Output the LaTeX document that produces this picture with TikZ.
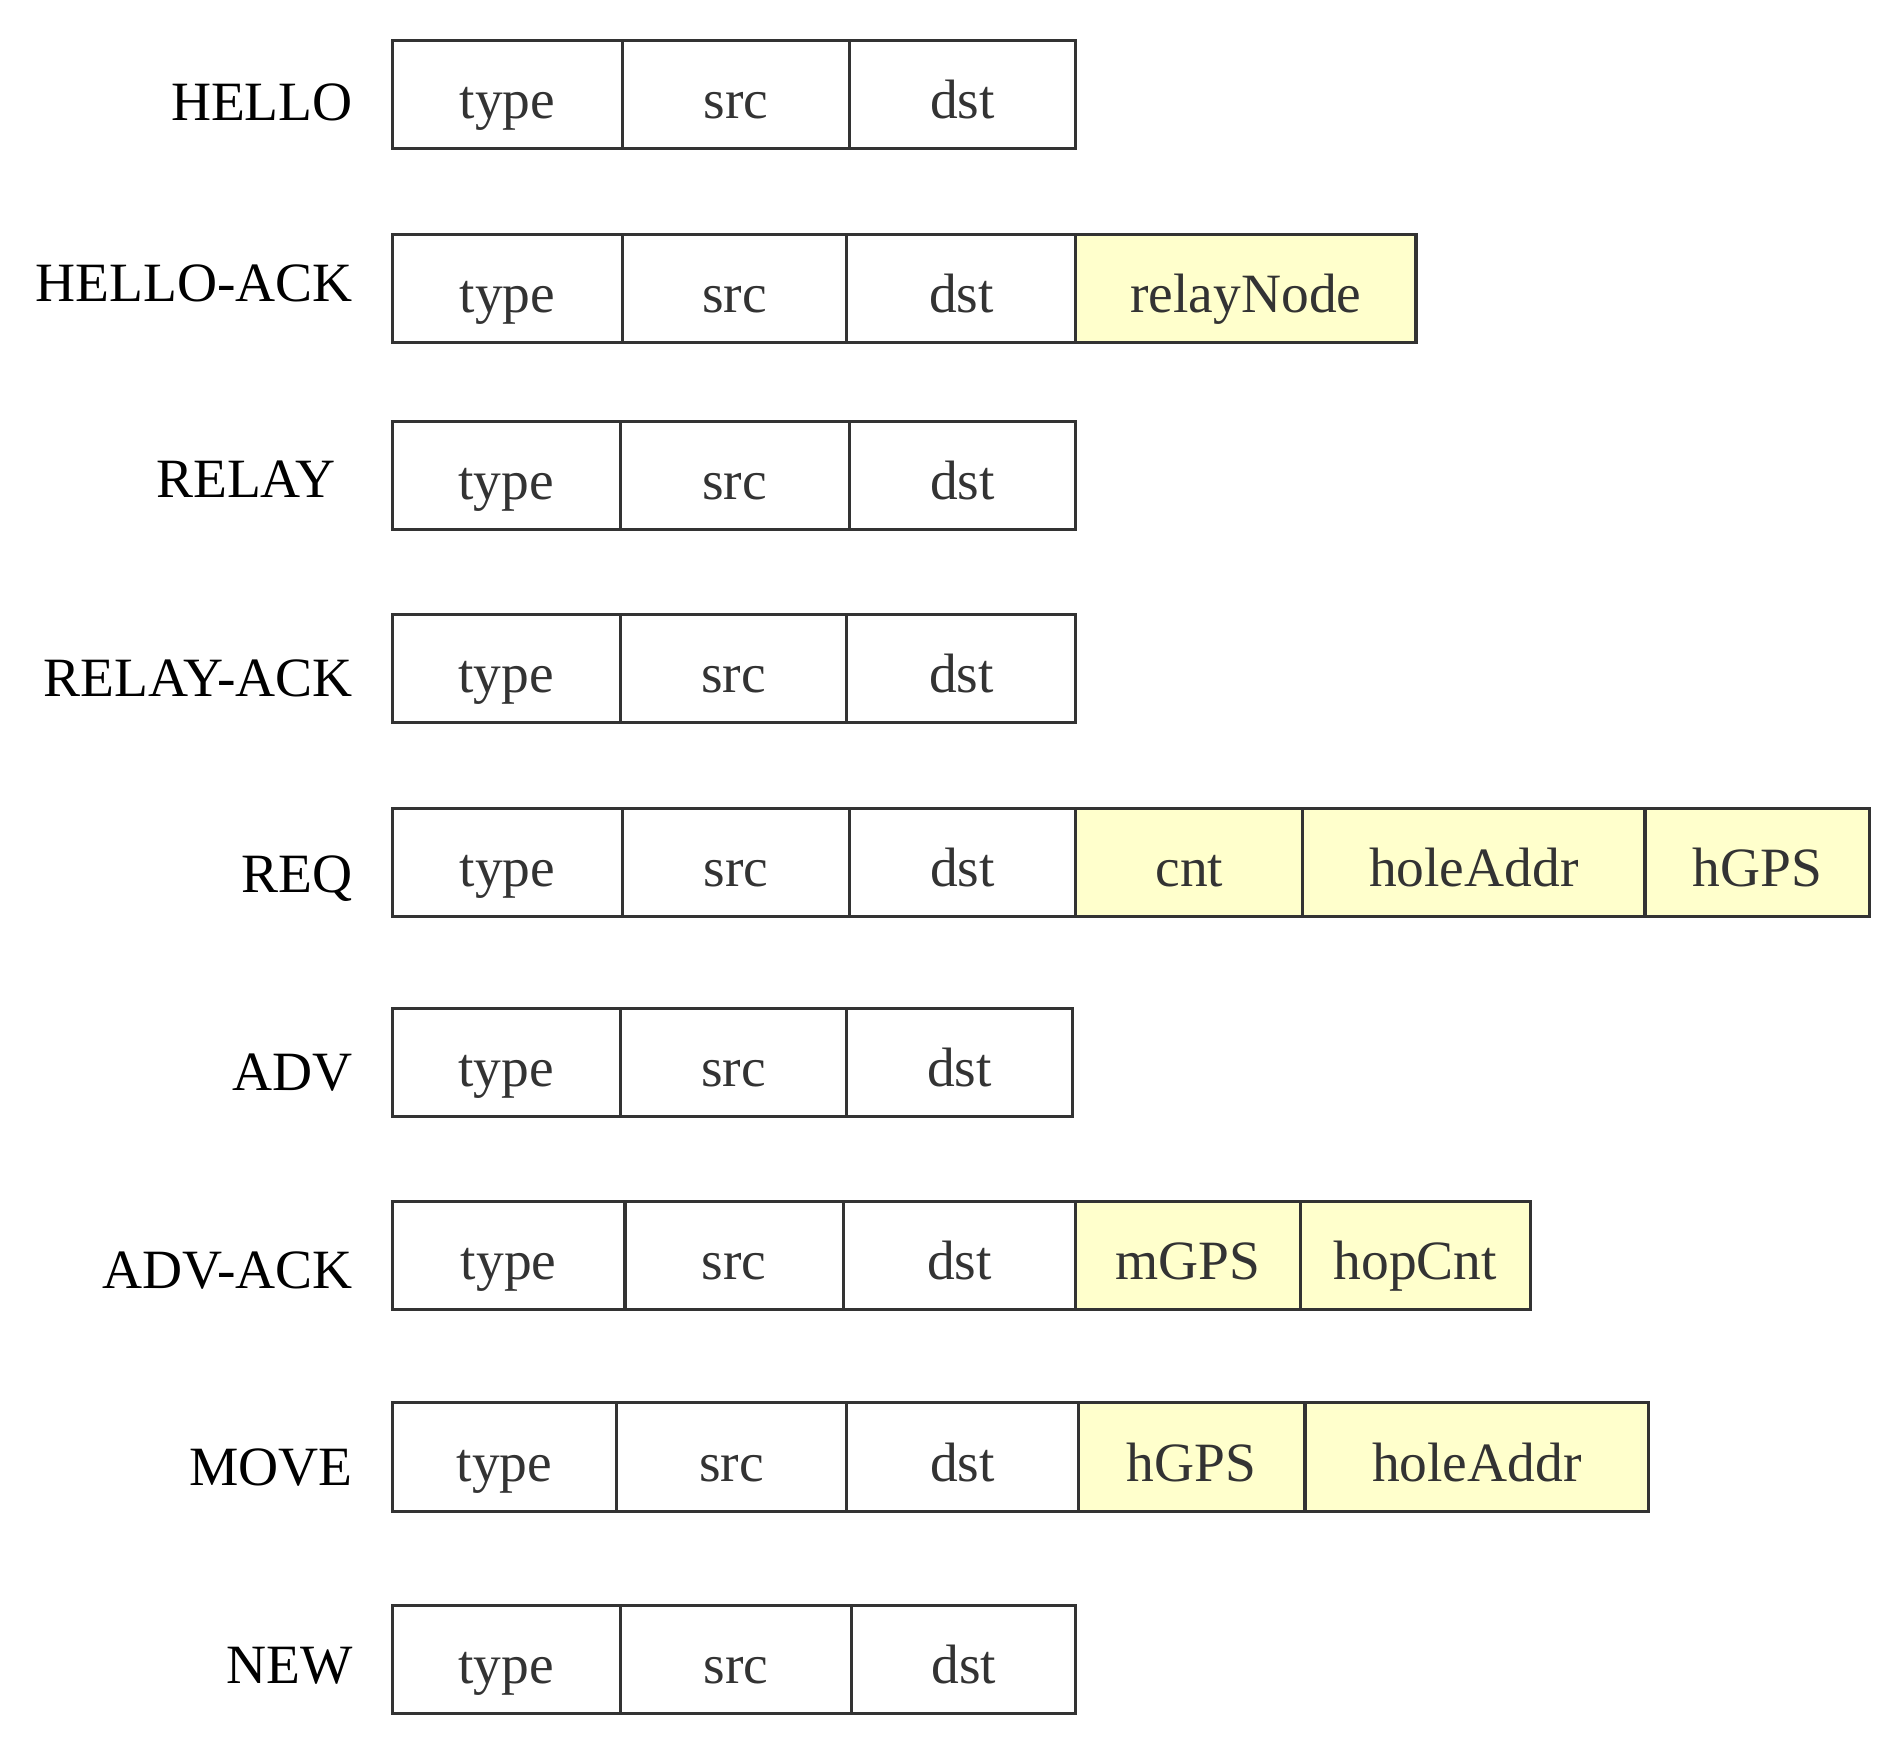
\documentclass[tikz,border=0pt]{standalone}
\usepackage{fontspec}
\setmainfont{Liberation Serif}
\usepackage{tikz}
\definecolor{optfill}{HTML}{FFFFCC}
\definecolor{cellline}{HTML}{333333}
\tikzstyle{fld}=[rectangle, draw=cellline, line width=1.3pt, inner sep=0pt, minimum height=45pt, text height=20pt, text depth=0pt, text=black!80, font=\fontsize{23}{26}\selectfont]
\tikzstyle{opt}=[fld, fill=optfill]
\tikzstyle{msg}=[anchor=base east, inner sep=0pt, font=\fontsize{23}{26}\selectfont]
% name, left, right, top, style, text
\providecommand{\fld}[6]{%
  \pgfmathsetmacro\fw{(#3-#2)*0.5}%
  \node[#5, minimum width=\fw pt, anchor=north west] (#1) at (#2,#4) {#6};}

\begin{document}
\begin{tikzpicture}[x=0.5pt,y=-0.5pt]
\useasboundingbox (0,0) rectangle (1560,1440);
% HELLO
\fld{h1}{324}{515}{32}{fld}{type}
\fld{h2}{515}{703}{32}{fld}{src}
\fld{h3}{703}{891}{32}{fld}{dst}
\node[msg] (hello) at (293,100) {HELLO};
% HELLO-ACK
\fld{ha1}{324}{515}{193}{fld}{type}
\fld{ha2}{515}{701}{193}{fld}{src}
\fld{ha3}{701}{891}{193}{fld}{dst}
\fld{ha4}{891}{1173}{193}{opt}{relayNode}
\node[msg] (helloack) at (293,250) {HELLO-ACK};
% RELAY
\fld{r1}{324}{513}{348}{fld}{type}
\fld{r2}{513}{703}{348}{fld}{src}
\fld{r3}{703}{891}{348}{fld}{dst}
\node[msg] (relay) at (279,413) {RELAY};
% RELAY-ACK
\fld{ra1}{324}{513}{508}{fld}{type}
\fld{ra2}{513}{701}{508}{fld}{src}
\fld{ra3}{701}{891}{508}{fld}{dst}
\node[msg] (relayack) at (293,578) {RELAY-ACK};
% REQ
\fld{q1}{324}{515}{669}{fld}{type}
\fld{q2}{515}{703}{669}{fld}{src}
\fld{q3}{703}{891}{669}{fld}{dst}
\fld{q4}{891}{1079}{669}{opt}{cnt}
\fld{q5}{1079}{1363}{669}{opt}{holeAddr}
\fld{q6}{1363}{1549}{669}{opt}{hGPS}
\node[msg] (req) at (293,740) {REQ};
% ADV
\fld{a1}{324}{513}{835}{fld}{type}
\fld{a2}{513}{701}{835}{fld}{src}
\fld{a3}{701}{888}{835}{fld}{dst}
\node[msg] (adv) at (293,904) {ADV};
% ADV-ACK
\fld{aa1}{324}{517}{995}{fld}{type}
\fld{aa2}{517}{698}{995}{fld}{src}
\fld{aa3}{698}{891}{995}{fld}{dst}
\fld{aa4}{891}{1077}{995}{opt}{mGPS}
\fld{aa5}{1077}{1268}{995}{opt}{hopCnt}
\node[msg] (advack) at (293,1069) {ADV-ACK};
% MOVE
\fld{m1}{324}{510}{1162}{fld}{type}
\fld{m2}{510}{701}{1162}{fld}{src}
\fld{m3}{701}{893}{1162}{fld}{dst}
\fld{m4}{893}{1081}{1162}{opt}{hGPS}
\fld{m5}{1081}{1366}{1162}{opt}{holeAddr}
\node[msg] (move) at (293,1232) {MOVE};
% NEW
\fld{n1}{324}{513}{1330}{fld}{type}
\fld{n2}{513}{705}{1330}{fld}{src}
\fld{n3}{705}{891}{1330}{fld}{dst}
\node[msg] (new) at (293,1396) {NEW};
\end{tikzpicture}
\end{document}
